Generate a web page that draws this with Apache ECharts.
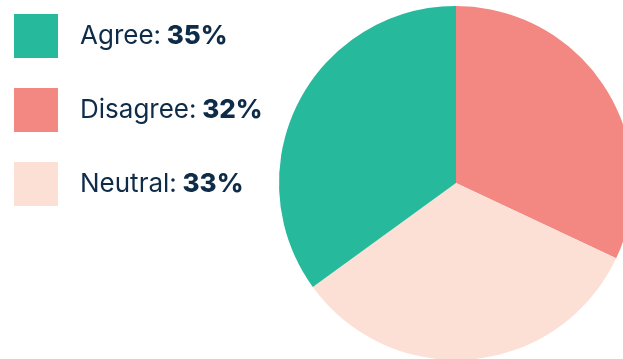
<!DOCTYPE html>
<html>
<head>
<meta charset="utf-8">
<script src="https://cdn.jsdelivr.net/npm/echarts@6/dist/echarts.min.js"></script>
<style>
  html, body { margin: 0; padding: 0; background: #ffffff; }
  #chart { width: 623px; height: 359px; }
</style>
</head>
<body>
<div id="chart"></div>
<script>
// Survey response shares, drawn clockwise from 12 o'clock
const categories = ['Disagree', 'Neutral', 'Agree'];
const shares = [32, 33, 35];
const legendOrder = ['Agree', 'Disagree', 'Neutral'];
const colors = { Agree: '#26B99C', Disagree: '#F38782', Neutral: '#FCDFD5' };

const chart = echarts.init(document.getElementById('chart'));
const shareOf = name => shares[categories.indexOf(name)];

chart.setOption({
  animation: false,
  legend: {
    orient: 'vertical',
    left: 14,
    top: 14,
    padding: 0,
    itemWidth: 44,
    itemHeight: 44,
    itemGap: 30,
    icon: 'rect',
    selectedMode: false,
    data: legendOrder,
    formatter: name => `{n|${name}:}{v| ${shareOf(name)}%}`,
    textStyle: {
      padding: [0, 0, 0, 17],
      rich: {
        n: { fontFamily: 'Inter', fontSize: 26, fontWeight: 400, color: '#0E2C48' },
        v: { fontFamily: 'Inter', fontSize: 26, fontWeight: 800, color: '#0E2C48' }
      }
    }
  },
  series: [{
    type: 'pie',
    center: [456, 183],
    radius: 177,
    startAngle: 90,
    clockwise: true,
    label: { show: false },
    labelLine: { show: false },
    emphasis: { disabled: true },
    data: categories.map((c, i) => ({
      name: c,
      value: shares[i],
      itemStyle: { color: colors[c] }
    }))
  }]
});
</script>
</body>
</html>
